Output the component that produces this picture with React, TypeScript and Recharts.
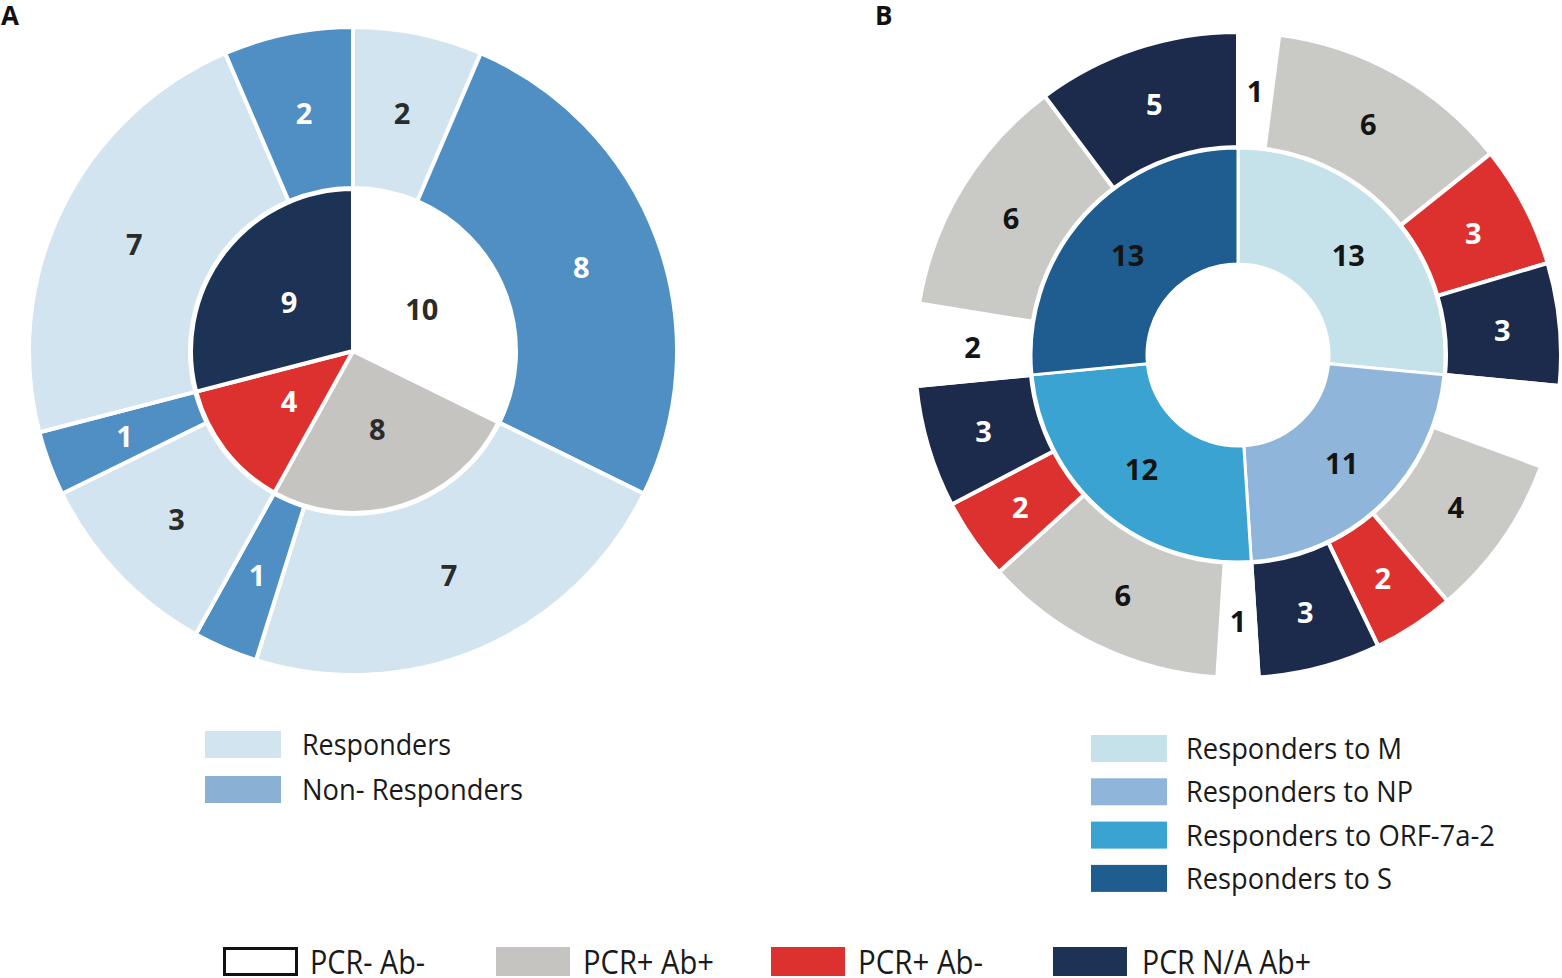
import React from "react";
import { PieChart, Pie, Cell } from "recharts";

// ---- panel A ----
const aInnerGroups = ["PCR- Ab-", "PCR+ Ab+", "PCR+ Ab-", "PCR N/A Ab+"];
const aInnerValues = [10, 8, 4, 9];
const aOuterKinds = [
  "Responders", "Non- Responders",
  "Responders", "Non- Responders",
  "Responders", "Non- Responders",
  "Responders", "Non- Responders",
];
const aOuterValues = [2, 8, 7, 1, 3, 1, 7, 2];

// ---- panel B ----
const bInnerGroups = ["Responders to M", "Responders to NP", "Responders to ORF-7a-2", "Responders to S"];
const bInnerValues = [13, 11, 12, 13];
const bOuterGroups = [
  "PCR- Ab-", "PCR+ Ab+", "PCR+ Ab-", "PCR N/A Ab+",
  "PCR- Ab-", "PCR+ Ab+", "PCR+ Ab-", "PCR N/A Ab+",
  "PCR- Ab-", "PCR+ Ab+", "PCR+ Ab-", "PCR N/A Ab+",
  "PCR- Ab-", "PCR+ Ab+", "PCR N/A Ab+",
];
const bOuterValues = [1, 6, 3, 3, 2, 4, 2, 3, 1, 6, 2, 3, 2, 6, 5];
const bOuterHidden = [4]; // NP's PCR- Ab- slice carries no number

const statusColors: Record<string, string> = {
  "PCR- Ab-": "#ffffff",
  "PCR+ Ab+": "#c5c4c0",
  "PCR+ Ab-": "#dd3130",
  "PCR N/A Ab+": "#1c3356",
};
const bStatusColors: Record<string, string> = {
  ...statusColors,
  "PCR+ Ab+": "#c9cac6",
  "PCR N/A Ab+": "#1c2b4b",
};
const responderColors: Record<string, string> = {
  Responders: "#d2e4ef",
  "Non- Responders": "#4f8fc3",
};
const responderLegendColors: Record<string, string> = {
  Responders: "#d2e4ef",
  "Non- Responders": "#8ab1d3",
};
const antigenColors: Record<string, string> = {
  "Responders to M": "#c5e2ea",
  "Responders to NP": "#8fb6da",
  "Responders to ORF-7a-2": "#3ba3d1",
  "Responders to S": "#1f5c8f",
};

const legendStatus = ["PCR- Ab-", "PCR+ Ab+", "PCR+ Ab-", "PCR N/A Ab+"];

const darkOn = ["#ffffff", "#c5c4c0", "#c9cac6", "#d2e4ef", "#c5e2ea", "#8fb6da", "#3ba3d1", "#1f5c8f"];
const RADIAN = Math.PI / 180;

const makeLabel = (hidden: number[] = [], dark = "#2b2b2b", forceDark = false) => (p: any) => {
  if (hidden.includes(p.index)) return null;
  const r = (p.innerRadius + p.outerRadius) / 2;
  const x = p.cx + r * Math.cos(-p.midAngle * RADIAN);
  const y = p.cy + r * Math.sin(-p.midAngle * RADIAN);
  const fill = p.payload?.fill ?? p.fill;
  const color = forceDark || darkOn.includes(fill) ? dark : "#ffffff";
  return (
    <text
      x={x}
      y={y}
      fill={color}
      textAnchor="middle"
      dominantBaseline="central"
      fontFamily="'Open Sans', sans-serif"
      fontWeight={700}
      fontSize={29}
    >
      {p.value}
    </text>
  );
};

const aInner = aInnerValues.map((v, i) => ({ name: aInnerGroups[i], value: v, fill: statusColors[aInnerGroups[i]] }));
const aOuter = aOuterValues.map((v, i) => ({ name: aOuterKinds[i], value: v, fill: responderColors[aOuterKinds[i]] }));
const bInner = bInnerValues.map((v, i) => ({ name: bInnerGroups[i], value: v, fill: antigenColors[bInnerGroups[i]] }));
const bOuter = bOuterValues.map((v, i) => ({ name: bOuterGroups[i], value: v, fill: bStatusColors[bOuterGroups[i]] }));

const font = "'Open Sans', sans-serif";

export default function App() {
  return (
    <div style={{ position: "absolute", left: 0, top: 0, width: 1562, height: 978, background: "#fff" }}>
      <PieChart width={1562} height={978} margin={{ top: 0, right: 0, bottom: 0, left: 0 }}>
        <Pie
          data={aOuter}
          dataKey="value"
          cx={353}
          cy={351}
          innerRadius={163}
          outerRadius={324}
          startAngle={90}
          endAngle={-270}
          stroke="#ffffff"
          strokeWidth={4}
          label={makeLabel()}
          labelLine={false}
          isAnimationActive={false}
        >
          {aOuter.map((d, i) => <Cell key={i} fill={d.fill} />)}
        </Pie>
        <Pie
          data={aInner}
          dataKey="value"
          cx={353}
          cy={351}
          innerRadius={0}
          outerRadius={162}
          startAngle={90}
          endAngle={-270}
          stroke="#ffffff"
          strokeWidth={4}
          label={makeLabel()}
          labelLine={false}
          isAnimationActive={false}
        >
          {aInner.map((d, i) => <Cell key={i} fill={d.fill} />)}
        </Pie>
        <Pie
          data={bOuter}
          dataKey="value"
          cx={1238}
          cy={355}
          innerRadius={208}
          outerRadius={323}
          startAngle={90}
          endAngle={-270}
          stroke="#ffffff"
          strokeWidth={4}
          label={makeLabel(bOuterHidden, "#141414")}
          labelLine={false}
          isAnimationActive={false}
        >
          {bOuter.map((d, i) => <Cell key={i} fill={d.fill} />)}
        </Pie>
        <Pie
          data={bInner}
          dataKey="value"
          cx={1238}
          cy={355}
          innerRadius={91}
          outerRadius={207}
          startAngle={90}
          endAngle={-270}
          stroke="#ffffff"
          strokeWidth={3}
          label={makeLabel([], "#141414", true)}
          labelLine={false}
          isAnimationActive={false}
        >
          {bInner.map((d, i) => <Cell key={i} fill={d.fill} />)}
        </Pie>
      </PieChart>

      <svg
        width={1562}
        height={978}
        style={{ position: "absolute", left: 0, top: 0, pointerEvents: "none" }}
      >
        <text x={1} y={25} fontFamily={font} fontWeight={700} fontSize={26} fill="#111">A</text>
        <text x={875} y={25} fontFamily={font} fontWeight={700} fontSize={26} fill="#111">B</text>

        {["Responders", "Non- Responders"].map((k, i) => (
          <g key={k}>
            <rect x={205} y={731 + i * 45} width={76} height={27} fill={responderLegendColors[k]} />
            <text
              x={302}
              y={755 + i * 45}
              fontFamily={font}
              fontSize={29}
              fill="#1a1a1a"
              textLength={[149, 221][i]}
              lengthAdjust="spacingAndGlyphs"
            >
              {k}
            </text>
          </g>
        ))}

        {bInnerGroups.map((k, i) => (
          <g key={k}>
            <rect x={1091} y={735 + i * 43.3} width={76} height={27} fill={antigenColors[k]} />
            <text
              x={1186}
              y={759 + i * 43.3}
              fontFamily={font}
              fontSize={29}
              fill="#1a1a1a"
              textLength={[216, 227, 309, 206][i]}
              lengthAdjust="spacingAndGlyphs"
            >
              {k}
            </text>
          </g>
        ))}

        {legendStatus.map((k, i) => {
          const bx = [223, 496, 771, 1053][i];
          const tx = [310, 583, 858, 1142][i];
          const tw = [115, 131, 125, 169][i];
          return (
            <g key={k}>
              {k === "PCR- Ab-" ? (
                <rect x={bx + 1.5} y={948.5} width={72} height={26} fill="#fff" stroke="#111" strokeWidth={3} />
              ) : (
                <rect x={bx} y={947} width={74} height={29} fill={statusColors[k]} />
              )}
              <text
                x={tx}
                y={974}
                fontFamily={font}
                fontSize={32}
                fill="#1a1a1a"
                textLength={tw}
                lengthAdjust="spacingAndGlyphs"
              >
                {k}
              </text>
            </g>
          );
        })}
      </svg>
    </div>
  );
}
